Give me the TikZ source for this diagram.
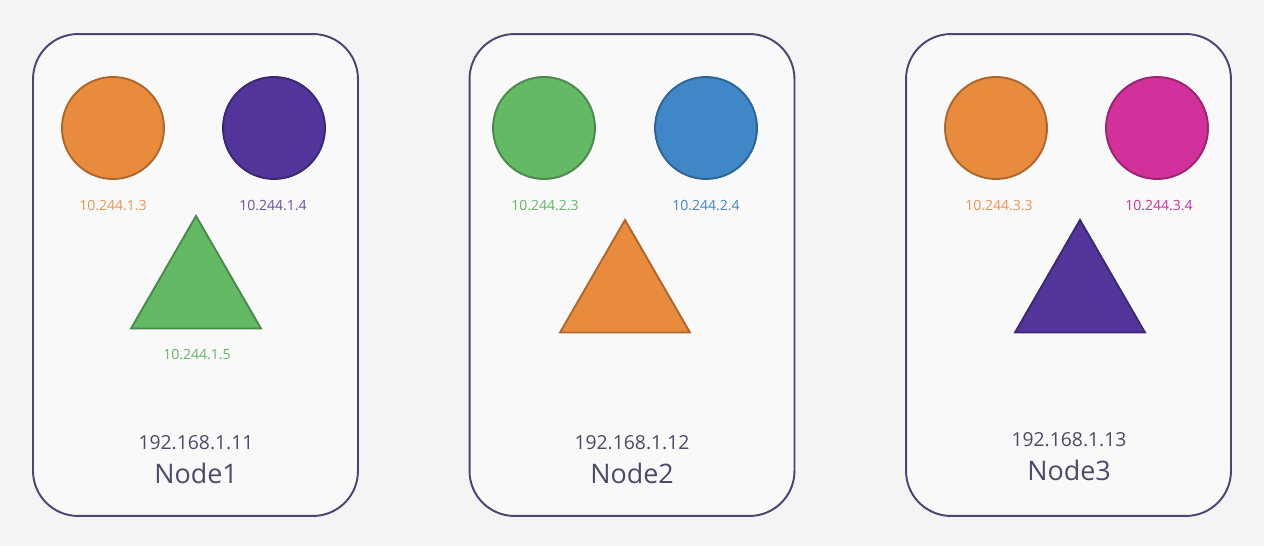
\documentclass[tikz,border=0pt]{standalone}
\usepackage{fontspec}
\setmainfont{Open Sans}
\usetikzlibrary{shapes.geometric}

\definecolor{bgcol}{HTML}{F4F4F5}
\definecolor{boxfill}{HTML}{F9F9FA}
\definecolor{boxline}{HTML}{4A4572}
\definecolor{txtcol}{HTML}{4A4B68}
\definecolor{podorange}{HTML}{E88B3C}
\definecolor{podpurple}{HTML}{51359A}
\definecolor{podgreen}{HTML}{63B964}
\definecolor{podblue}{HTML}{3F87C7}
\definecolor{podpink}{HTML}{D2309A}

\begin{document}
\begin{tikzpicture}[x=0.02cm, y=-0.02cm,
    hostbox/.style={draw=boxline, fill=boxfill, line width=1.1pt, rounded corners=0.9cm,
        minimum width=6.5cm, minimum height=9.64cm, inner sep=0pt},
    podc/.style={circle, draw=#1!75!black, fill=#1, line width=1.1pt,
        minimum size=2.04cm, inner sep=0pt},
    podt/.style={regular polygon, regular polygon sides=3, draw=#1!75!black, fill=#1,
        line width=1.1pt, minimum size=3.0cm, inner sep=0pt},
    podip/.style={text=#1, font=\fontsize{8}{10}\selectfont, inner sep=1pt},
    hostip/.style={text=txtcol, font=\fontsize{11}{13}\selectfont, inner sep=1pt},
    hostname/.style={text=txtcol, font=\fontsize{15.3}{18}\selectfont, inner sep=1pt}]

    % background
    \fill[bgcol] (0,0) rectangle (1264,546);

    % hosts
    \node[hostbox] at (195.5,275) (h1) {};
    \node[hostbox] at (632,275)   (h2) {};
    \node[hostbox] at (1068.5,275) (h3) {};

    % Node1
    \node[podc=podorange] at (113,128) (p13) {};
    \node[podc=podpurple] at (274,128) (p14) {};
    \node[podt=podgreen]  at (196,291) (p15) {};
    \node[podip=podorange!90!white] at (113,206) (ip13) {10.244.1.3};
    \node[podip=podpurple!85!white] at (273,206) (ip14) {10.244.1.4};
    \node[podip=podgreen]  at (197,355) (ip15) {10.244.1.5};
    \node[hostip]   at (196,443) (hip1) {192.168.1.11};
    \node[hostname] at (196,473) (hn1) {Node1};

    % Node2
    \node[podc=podgreen] at (544,128) (p23) {};
    \node[podc=podblue]  at (706,128) (p24) {};
    \node[podt=podorange] at (625,295) (p25) {};
    \node[podip=podgreen] at (545,206) (ip23) {10.244.2.3};
    \node[podip=podblue]  at (706,206) (ip24) {10.244.2.4};
    \node[hostip]   at (632,443) (hip2) {192.168.1.12};
    \node[hostname] at (632,473) (hn2) {Node2};

    % Node3
    \node[podc=podorange] at (996,128)  (p33) {};
    \node[podc=podpink]   at (1157,128) (p34) {};
    \node[podt=podpurple] at (1080,295) (p35) {};
    \node[podip=podorange!90!white] at (999,206)  (ip33) {10.244.3.3};
    \node[podip=podpink]  at (1159,206) (ip34) {10.244.3.4};
    \node[hostip]   at (1069,440) (hip3) {192.168.1.13};
    \node[hostname] at (1069,470) (hn3) {Node3};

    \useasboundingbox (0,0) rectangle (1264,546);
\end{tikzpicture}
\end{document}
